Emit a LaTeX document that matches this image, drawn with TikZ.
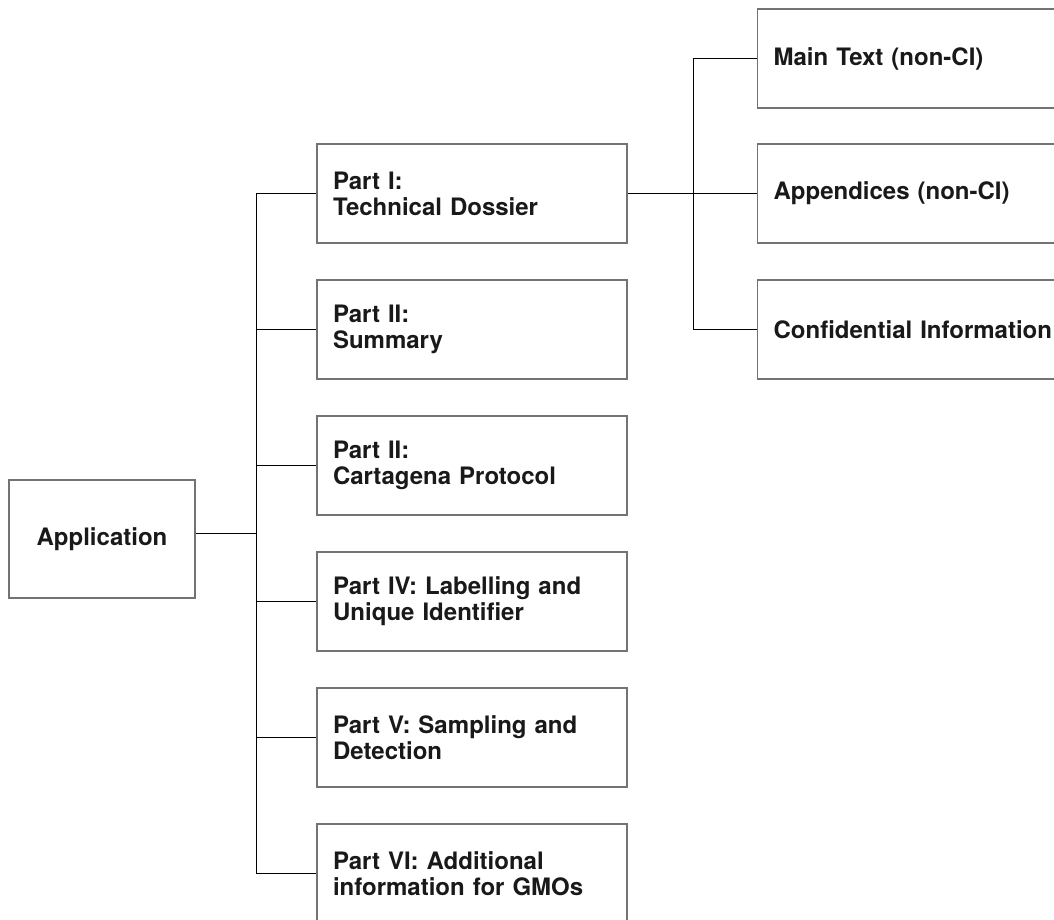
\documentclass[tikz,border=0pt]{standalone}
\usepackage{fontspec}
\setmainfont{TeX Gyre Heros}
\begin{document}
\begin{tikzpicture}[x=1pt, y=-1pt,
  every node/.style={font=\bfseries\fontsize{24}{26}\selectfont, text=black!90},
  box/.style={draw=black!55, line width=1.2pt, minimum height=99pt, inner xsep=16pt, align=left},
  partbox/.style={box, text width=278pt},
  subbox/.style={box, text width=300pt, anchor=west},
  link/.style={line width=0.9pt}]
  % frame (right and bottom boxes run off the page)
  \useasboundingbox (0,0) rectangle (1054,920);
  \clip (0,0) rectangle (1054,920);

  % root
  \node[draw=black!55, line width=1.2pt, minimum width=186pt, minimum height=118pt] (app) at (102,539) {Application};

  % parts
  \node[partbox] (p1) at (472,193.5) {Part I:\\Technical Dossier};
  \node[partbox] (p2) at (472,329.5) {Part II:\\Summary};
  \node[partbox] (p3) at (472,465.5) {Part II:\\Cartagena Protocol};
  \node[partbox] (p4) at (472,601.5) {Part IV: Labelling and\\Unique Identifier};
  \node[partbox] (p5) at (472,737.5) {Part V: Sampling and\\Detection};
  \node[partbox] (p6) at (472,873.5) {Part VI: Additional\\information for GMOs};

  % contents of part I
  \node[subbox] (s1) at (757,58.5) {Main Text (non-CI)};
  \node[subbox] (s2) at (757,193.5) {Appendices (non-CI)};
  \node[subbox] (s3) at (757,329.5) {Confidential Information};

  % left tree
  \coordinate (trunk) at (256,533.5);
  \draw[link] (app.east |- trunk) -- (trunk);
  \draw[link] (p1.west -| trunk) -- (p6.west -| trunk);
  \draw[link] (p1.west) -- (p1.west -| trunk);
  \draw[link] (p2.west) -- (p2.west -| trunk);
  \draw[link] (p3.west) -- (p3.west -| trunk);
  \draw[link] (p4.west) -- (p4.west -| trunk);
  \draw[link] (p5.west) -- (p5.west -| trunk);
  \draw[link] (p6.west) -- (p6.west -| trunk);

  % right tree
  \coordinate (fork) at (693,193.5);
  \draw[link] (p1.east) -- (s2.west);
  \draw[link] (s1.west -| fork) -- (s3.west -| fork);
  \draw[link] (s1.west) -- (s1.west -| fork);
  \draw[link] (s3.west) -- (s3.west -| fork);
\end{tikzpicture}
\end{document}
